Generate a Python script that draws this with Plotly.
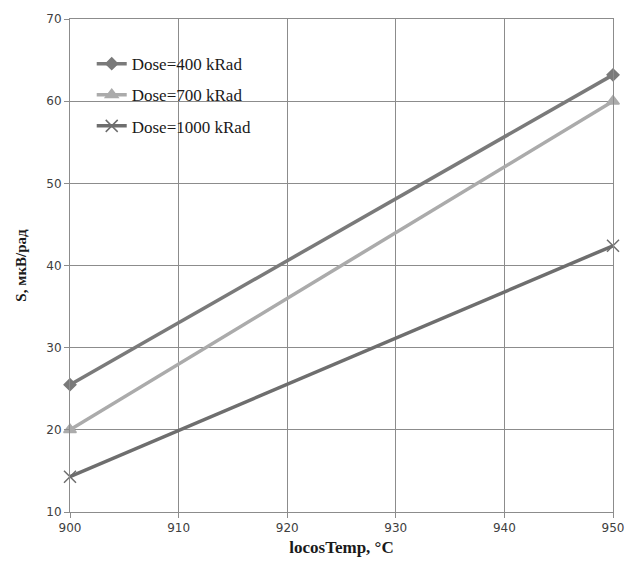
import plotly.graph_objects as go

# Oxidation temperature (°C) and sensitivity S (µV/rad) for three doses
locos_temp = [900, 950]
s_400 = [25.5, 63.2]
s_700 = [20.0, 60.0]
s_1000 = [14.3, 42.4]

series = [
    ("Dose=400 kRad", s_400, "#7a7a7a", "diamond", 9),
    ("Dose=700 kRad", s_700, "#ababab", "triangle-up", 11),
    ("Dose=1000 kRad", s_1000, "#6e6e6e", "x-thin", 12),
]

fig = go.Figure()
for i, (name, ys, color, symbol, msize) in enumerate(series):
    fig.add_trace(go.Scatter(
        x=locos_temp, y=ys, name=name, mode="lines+markers",
        legendgroup=f"g{i}", cliponaxis=False,
        line=dict(color=color, width=3.5),
        marker=dict(symbol=symbol, size=msize, color=color,
                    line=dict(color=color, width=1.5)),
    ))

grid = "#8c8c8c"
axis_common = dict(
    showgrid=True, gridcolor=grid, gridwidth=1,
    showline=True, linecolor=grid, linewidth=1, mirror=True,
    ticks="outside", ticklen=5, tickcolor=grid,
    zeroline=False,
    tickfont=dict(family="DejaVu Sans", size=12, color="#404040"),
)

fig.update_layout(
    width=641, height=569,
    margin=dict(l=70, r=28, t=16, b=57),
    paper_bgcolor="white", plot_bgcolor="white",
    xaxis=dict(range=[900, 950], dtick=10,
               title=dict(text="<b>locosTemp, °C</b>", standoff=6,
                          font=dict(family="Liberation Serif", size=17, color="#1a1a1a")),
               **axis_common),
    yaxis=dict(range=[10, 70], dtick=10,
               title=dict(text="<b>S, мкВ/рад</b>", standoff=16,
                          font=dict(family="Liberation Serif", size=15, color="#1a1a1a")),
               **axis_common),
    legend=dict(x=0.04, y=0.945, xanchor="left", yanchor="top",
                bgcolor="rgba(255,255,255,0)",
                font=dict(family="Liberation Serif", size=17, color="#1a1a1a"),
                tracegroupgap=6),
    showlegend=True,
)

fig.write_html("out.html")
